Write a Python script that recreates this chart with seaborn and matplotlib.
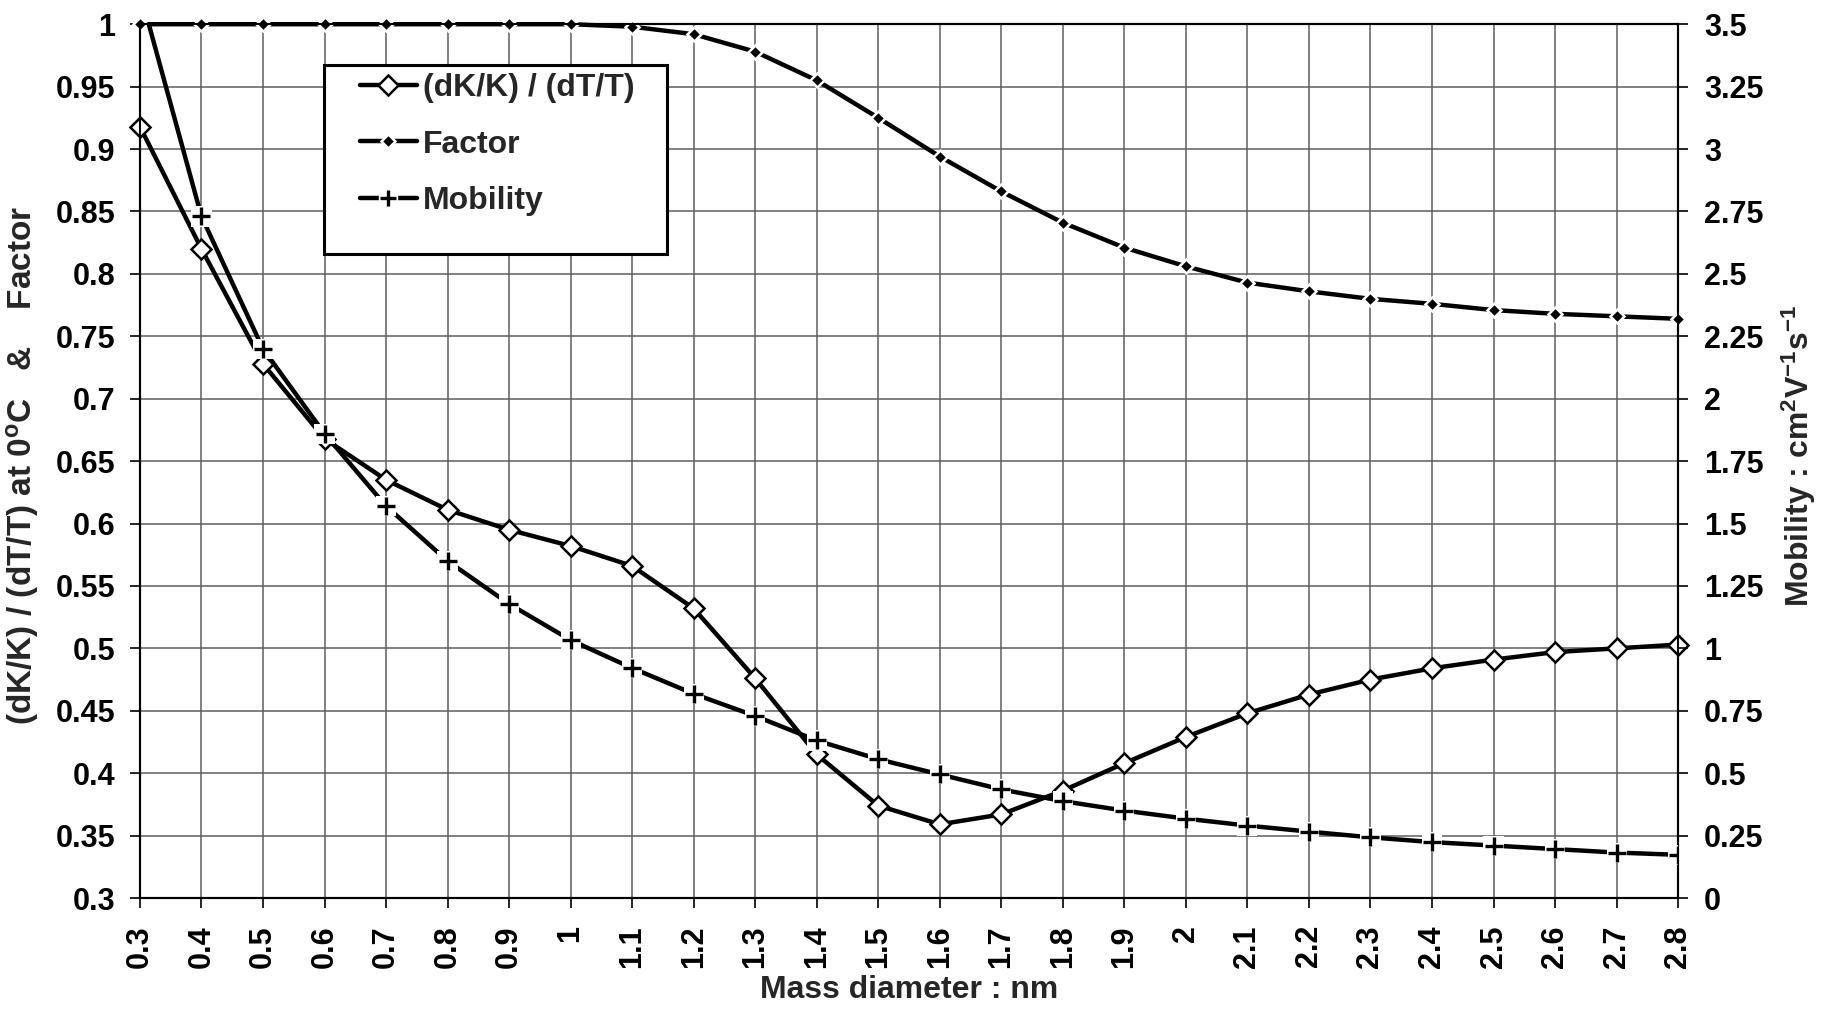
import pandas as pd
import seaborn as sns
import matplotlib.pyplot as plt
from matplotlib.lines import Line2D
from matplotlib.patches import Rectangle
from matplotlib.ticker import FuncFormatter

# data
diameter = [0.3, 0.4, 0.5, 0.6, 0.7, 0.8, 0.9, 1.0, 1.1, 1.2, 1.3, 1.4, 1.5,
            1.6, 1.7, 1.8, 1.9, 2.0, 2.1, 2.2, 2.3, 2.4, 2.5, 2.6, 2.7, 2.8]
dk_ratio = [0.918, 0.820, 0.728, 0.668, 0.635, 0.611, 0.595, 0.582, 0.566,
            0.532, 0.476, 0.415, 0.374, 0.359, 0.367, 0.386, 0.408, 0.429,
            0.448, 0.463, 0.475, 0.484, 0.491, 0.497, 0.500, 0.503]
factor = [1.0, 1.0, 1.0, 1.0, 1.0, 1.0, 1.0, 1.0, 0.998, 0.992, 0.978, 0.955,
          0.925, 0.894, 0.866, 0.841, 0.821, 0.806, 0.793, 0.786, 0.780,
          0.776, 0.771, 0.768, 0.766, 0.764]
mobility = [3.63, 2.73, 2.20, 1.86, 1.57, 1.35, 1.178, 1.033, 0.921, 0.818,
            0.729, 0.631, 0.556, 0.495, 0.435, 0.388, 0.350, 0.318, 0.290,
            0.266, 0.243, 0.224, 0.210, 0.196, 0.182, 0.173]
labels = ["(dK/K) / (dT/T)", "Factor", "Mobility"]

df = pd.DataFrame({"d": diameter, "dk": dk_ratio, "factor": factor, "mob": mobility})

sns.set_style("white")
plt.rcParams["font.family"] = ["Liberation Sans", "DejaVu Sans"]
plt.rcParams["font.weight"] = "bold"
plt.rcParams["mathtext.fontset"] = "custom"
plt.rcParams["mathtext.rm"] = "Liberation Sans:bold"
plt.rcParams["mathtext.bf"] = "Liberation Sans:bold"
plt.rcParams["mathtext.default"] = "bf"

fs = 22
lw = 3.2
fig = plt.figure(figsize=(18.29, 10.09), dpi=100)
ax = fig.add_axes([0.0765, 0.110, 0.841, 0.866])
ax2 = ax.twinx()

# (dK/K)/(dT/T): solid line, open diamonds
sns.lineplot(data=df, x="d", y="dk", ax=ax, color="black", lw=lw,
             marker="D", ms=10, mfc="white", mec="black", mew=1.8,
             clip_on=False, zorder=5)
# Factor: small filled diamonds with white rim
sns.lineplot(data=df, x="d", y="factor", ax=ax, color="black", lw=lw,
             marker="D", ms=7, mfc="black", mec="white", mew=1.8,
             clip_on=False, zorder=4)
# Mobility: line broken by a white square behind each "+"
sns.lineplot(data=df, x="d", y="mob", ax=ax2, color="black", lw=lw, zorder=3)
sns.scatterplot(data=df, x="d", y="mob", ax=ax2, marker="s", s=210,
                color="white", edgecolor="none", zorder=4)
sns.scatterplot(data=df, x="d", y="mob", ax=ax2, marker="+", s=170,
                color="black", linewidth=2.4, zorder=5)

ax.set_xlim(0.3, 2.8)
ax.set_ylim(0.3, 1.0)
ax2.set_ylim(0, 3.5)
ax.set_xticks(diameter)
ax.set_yticks([0.3 + 0.05 * i for i in range(15)])
ax2.set_yticks([0.25 * i for i in range(15)])
fmt = FuncFormatter(lambda v, p: f"{v:g}")
ax.xaxis.set_major_formatter(fmt)
ax.yaxis.set_major_formatter(fmt)
ax2.yaxis.set_major_formatter(fmt)

ax.grid(True, color="#5e5e5e", lw=1.1)
ax.set_axisbelow(True)
for a in (ax, ax2):
    a.tick_params(axis="both", labelsize=fs, length=7.5, width=1.2,
                  direction="out", colors="black")
    for s in a.spines.values():
        s.set_color("black")
        s.set_linewidth(1.5)
ax.tick_params(axis="x", labelrotation=90, pad=12, bottom=True)
ax.tick_params(axis="y", pad=10, left=True)
ax2.tick_params(axis="y", pad=11, right=True)

ax.set_xlabel("Mass diameter : nm", fontsize=23, fontweight="bold")
ax.set_ylabel("(dK/K) / (dT/T) at 0$^{o}$C   &    Factor", fontsize=24,
              fontweight="bold")
ax2.set_ylabel("Mobility : cm$^{2}$V$^{-1}$s$^{-1}$", fontsize=23,
               fontweight="bold")
ax.xaxis.set_label_coords(0.5, -0.088)
ax.yaxis.set_label_coords(-0.064, 0.495)
ax2.yaxis.set_label_coords(1.066, 0.506)

# legend: handles built to look like the plotted series
h_dk = Line2D([], [], color="black", lw=lw, marker="D", ms=10, mfc="white",
              mec="black", mew=1.8)
h_fac = Line2D([], [], color="black", lw=lw, marker="D", ms=7, mfc="black",
               mec="white", mew=1.8)
h_mob = (Line2D([], [], color="black", lw=lw),
         Line2D([], [], ls="none", marker="s", ms=13, mfc="white", mec="white"),
         Line2D([], [], ls="none", marker="+", ms=12, mew=2.4, color="black"))

fig.add_artist(Rectangle((324 / 1829, 1 - 254 / 1009), 343 / 1829, 189 / 1009,
                         transform=fig.transFigure, facecolor="white",
                         edgecolor="black", lw=2.2, zorder=3))
leg = fig.legend([h_dk, h_fac, h_mob], labels, loc="upper left",
                 bbox_to_anchor=(360 / 1829, 1 - 73 / 1009), borderaxespad=0,
                 borderpad=0, prop={"size": 23, "weight": "bold"},
                 frameon=False, handlelength=1.78, handletextpad=0.19,
                 labelspacing=0.83)
leg.set_zorder(4)

fig.savefig("out.png", dpi=100)
